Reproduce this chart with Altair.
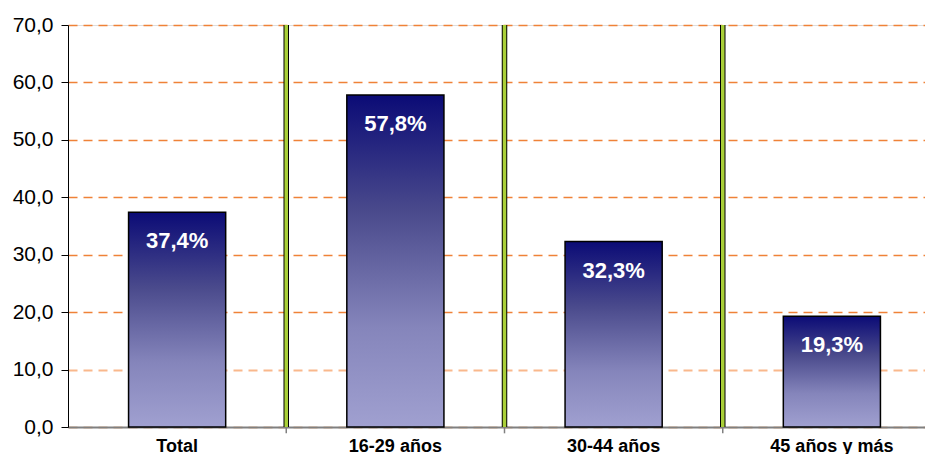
import altair as alt
import pandas as pd

categories = ["Total", "16-29 años", "30-44 años", "45 años y más"]
values = [37.4, 57.8, 32.3, 19.3]
separators = [1, 2, 3]
y_ticks = [0, 10, 20, 30, 40, 50, 60, 70]

df = pd.DataFrame({"cat": categories, "v": values})
sep_df = pd.DataFrame({"s": separators})

FONT = "Liberation Sans"
PAD_L, PAD_T, PAD_B = 60, 17, 27
PLOT_W = 917 - PAD_L      # visible plot width (page stays inside the window)
BAND_RANGE = 873          # full band range, right part clipped like the reference
PLOT_H = 402

gradient = alt.LinearGradient(
    gradient="linear",
    x1=0, x2=0, y1=0, y2=1,
    stops=[
        alt.GradientStop(color="#0b0b76", offset=0),
        alt.GradientStop(color="#4a4a8c", offset=0.35),
        alt.GradientStop(color="#8585bb", offset=0.7),
        alt.GradientStop(color="#a0a0d0", offset=1),
    ],
)

band_scale = alt.Scale(range=[0, BAND_RANGE], paddingInner=0.555, paddingOuter=0.2775)

x_enc = alt.X(
    "cat:N",
    sort=categories,
    scale=band_scale,
    axis=alt.Axis(
        title=None,
        labelAngle=0,
        labelFont=FONT,
        labelFontSize=18,
        labelFontWeight="bold",
        labelColor="black",
        labelBaseline="alphabetic",
        labelPadding=18,
        ticks=True,
        tickSize=6,
        tickOpacity=0,
        domainColor="#808080",
        domainWidth=2,
        grid=False,
    ),
)

y_enc = alt.Y(
    "v:Q",
    scale=alt.Scale(domain=[0, 70]),
    axis=alt.Axis(
        title=None,
        values=y_ticks,
        labelExpr="replace(format(datum.value, '.1f'), '.', ',')",
        labelFont=FONT,
        labelFontSize=21,
        labelColor="black",
        labelPadding=8,
        tickColor="black",
        tickSize=7,
        domainColor="black",
        grid=True,
        gridDash=[9, 6],
        gridColor={"condition": {"test": "datum.value === 10", "value": "#f9b88c"}, "value": "#ef8238"},
        gridWidth={"condition": {"test": "datum.value === 10", "value": 2.2}, "value": 1.4},
    ),
)

bars = alt.Chart(df).mark_bar(color=gradient, stroke="black", strokeWidth=1.5).encode(
    x=x_enc, y=y_enc
)

labels = alt.Chart(df).transform_calculate(
    lab="replace(format(datum.v, '.1f'), '.', ',') + '%'"
).mark_text(
    color="white", font=FONT, fontWeight="bold", fontSize=22, baseline="middle", dy=29
).encode(
    x=alt.X("cat:N", sort=categories),
    y=alt.Y("v:Q"),
    text="lab:N",
)

main = alt.layer(bars, labels)

sep_x = alt.X("s:Q", scale=alt.Scale(domain=[0, 4], range=[0, BAND_RANGE]), axis=None)
sep_tick = alt.Chart(sep_df).mark_rule(color="#808080", strokeWidth=1.5).encode(
    x=sep_x, y=alt.Y(datum=0), y2=alt.Y2(datum=-1.1)
)
sep_outer = alt.Chart(sep_df).mark_rule(color="black", strokeWidth=5.5).encode(
    x=sep_x, y=alt.Y(datum=70), y2=alt.Y2(datum=0)
)
sep_inner = alt.Chart(sep_df).mark_rule(color="#a9cf38", strokeWidth=3.5).encode(
    x=sep_x, y=alt.Y(datum=70), y2=alt.Y2(datum=0)
)

chart = alt.layer(main, sep_tick, sep_outer, sep_inner).resolve_scale(
    x="independent"
).properties(
    width=PLOT_W,
    height=PLOT_H,
    autosize=alt.AutoSizeParams(type="none"),
    padding={"left": PAD_L, "top": PAD_T, "right": 0, "bottom": PAD_B},
).configure_view(stroke=None).configure(background="white")

chart.save("out.html", embed_options={"renderer": "svg", "actions": False})
